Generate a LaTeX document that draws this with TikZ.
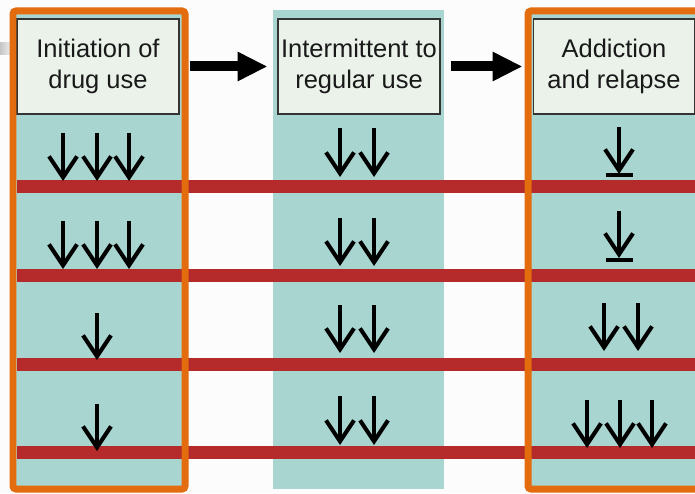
\documentclass[tikz,border=0pt]{standalone}
\usepackage{fontspec}
\setmainfont{Liberation Sans}
\usepackage{xcolor}
\usepackage{tikz}
\usetikzlibrary{arrows.meta}
\definecolor{bgc}{HTML}{FCFCFC}
\definecolor{tealc}{HTML}{A8D5CF}
\definecolor{redc}{HTML}{B52A2A}
\definecolor{orangec}{HTML}{E26C0E}
\definecolor{boxc}{HTML}{EAF2EA}

\begin{document}
\begin{tikzpicture}[x=0.02cm,y=-0.02cm]
\tikzstyle{stage}=[draw=black!80,fill=boxc,line width=0.6pt,minimum width=3.24cm,minimum height=1.9cm,inner sep=0pt,align=center,text=black!90,font=\fontsize{14.5}{18}\selectfont]
\tikzstyle{flow}=[line width=0.2cm,-{Triangle[length=0.6cm,width=0.55cm]},shorten <=0.2cm,shorten >=0.2cm]
\tikzstyle{dn}=[line width=2.3pt,-{Straight Barb[length=0.42cm,width=0.56cm]}]
\tikzstyle{tbar}=[line width=2.3pt]
\tikzstyle{frame}=[draw=orangec,line width=0.14cm,rounded corners=0.06cm]

\useasboundingbox (0,0) rectangle (695,493);
\clip (0,0) rectangle (695,493);
\fill[bgc] (0,0) rectangle (695,493);
\shade[left color=gray!45,right color=gray!10] (0,43) rectangle (12,55);
%
\fill[tealc] (13,11) rectangle (185,489);
\fill[tealc] (273,10) rectangle (444,489);
\fill[tealc] (528,11) rectangle (720,489);
\foreach \y in {186.5,275,364,452}
  \fill[redc] (17,\y-6.5) rectangle (695,\y+6.5);
%
\node[stage](init) at (98,66.5){Initiation of\\drug use};
\node[stage](inter) at (359,66.5){Intermittent to\\regular use};
\node[stage](addict) at (614,66.5){Addiction\\and relapse};
%
\draw[flow] (init) -- (inter);
\draw[flow] (inter) -- (addict);
%
% stage 1
\foreach \x in {63,97,129}{
  \draw[dn] (\x,133) -- (\x,181);
  \draw[dn] (\x,221) -- (\x,269);
}
\draw[dn] (97,313) -- (97,360);
\draw[dn] (97,404) -- (97,451);
% stage 2
\foreach \x in {340,374}{
  \draw[dn] (\x,128) -- (\x,177);
  \draw[dn] (\x,218) -- (\x,266);
  \draw[dn] (\x,305) -- (\x,353);
  \draw[dn] (\x,396) -- (\x,445);
}
% stage 3
\draw[dn] (619,127) -- (619,174);
\draw[tbar] (606,175) -- (633,175);
\draw[dn] (619,211) -- (619,258);
\draw[tbar] (606,260) -- (633,260);
\foreach \x in {604,638}
  \draw[dn] (\x,303) -- (\x,351);
\foreach \x in {587,620,652}
  \draw[dn] (\x,400) -- (\x,448);
%
\draw[frame] (13,11) rectangle (185,489);
\draw[frame] (528,11) rectangle (720,489);
\end{tikzpicture}
\end{document}
